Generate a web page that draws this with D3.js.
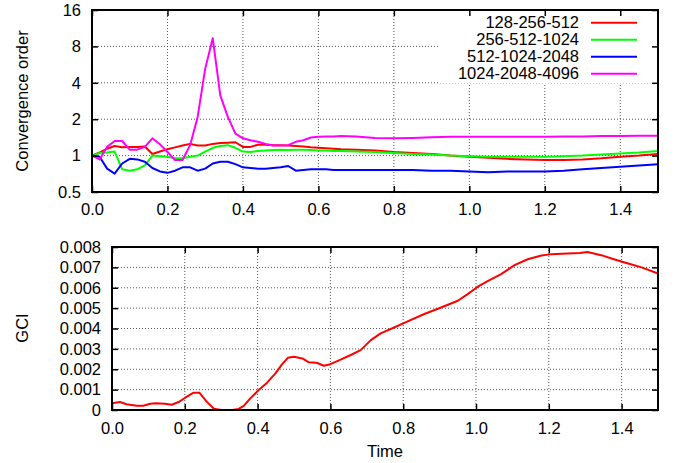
<!DOCTYPE html>
<html>
<head>
<meta charset="utf-8">
<script src="https://cdn.jsdelivr.net/npm/d3@7"></script>
<style>
  html, body { margin: 0; padding: 0; background: #fff; }
  svg { display: block; }
  text { font-family: "Liberation Sans", Arial, Helvetica, sans-serif; font-size: 16.5px; fill: #000; }
</style>
</head>
<body>
<svg id="chart" width="681" height="463"></svg>
<script>
// ---------------- data ----------------
const seriesNames = ["128-256-512", "256-512-1024", "512-1024-2048", "1024-2048-4096"];
const seriesColors = ["#ff0000", "#00ff00", "#0000ff", "#ff00ff"];

const orderTime = [0.00,0.02,0.04,0.06,0.08,0.10,0.12,0.14,0.16,0.18,0.20,0.22,0.24,0.26,0.28,0.30,0.32,0.34,0.36,0.38,
  0.40,0.42,0.44,0.46,0.48,0.50,0.52,0.54,0.56,0.58,0.60,0.62,0.64,0.66,
  0.70,0.75,0.80,0.85,0.90,0.95,1.00,1.05,1.10,1.15,1.20,1.25,1.30,1.35,1.40,1.45,1.50];

const order128 = [1.00,1.06,1.14,1.20,1.17,1.18,1.18,1.19,1.03,1.08,1.13,1.17,1.21,1.25,1.21,1.21,1.25,1.27,1.28,1.29,
  1.18,1.18,1.23,1.23,1.22,1.22,1.21,1.20,1.19,1.17,1.16,1.15,1.14,1.13,
  1.12,1.10,1.07,1.05,1.03,1.00,0.98,0.96,0.94,0.93,0.92,0.92,0.93,0.95,0.98,1.00,1.03];

const order256 = [1.00,1.05,1.06,1.08,0.77,0.75,0.77,0.83,1.00,0.99,0.98,0.95,0.95,0.98,1.00,1.08,1.16,1.20,1.22,1.16,
  1.08,1.07,1.09,1.10,1.11,1.12,1.11,1.12,1.12,1.11,1.10,1.10,1.09,1.09,
  1.08,1.07,1.05,1.03,1.02,1.00,0.99,0.98,0.98,0.98,0.98,0.99,1.00,1.02,1.04,1.06,1.09];

const order512 = [1.00,0.98,0.78,0.71,0.86,0.94,0.93,0.89,0.79,0.74,0.72,0.75,0.80,0.80,0.75,0.78,0.86,0.89,0.89,0.85,
  0.80,0.79,0.78,0.78,0.79,0.80,0.82,0.75,0.76,0.77,0.77,0.77,0.76,0.76,
  0.76,0.76,0.76,0.76,0.75,0.75,0.74,0.73,0.74,0.74,0.74,0.75,0.77,0.79,0.81,0.83,0.85];

const order1024 = [1.00,0.93,1.18,1.32,1.32,1.12,1.12,1.18,1.39,1.24,1.07,0.92,0.92,1.22,2.09,5.24,9.36,3.15,2.09,1.52,
  1.39,1.34,1.30,1.25,1.21,1.21,1.22,1.30,1.34,1.41,1.43,1.44,1.44,1.45,
  1.44,1.40,1.39,1.40,1.42,1.43,1.43,1.43,1.43,1.43,1.43,1.44,1.44,1.45,1.45,1.46,1.46];

const orderTicks = [0.5, 1, 2, 4, 8, 16];
const timeTicks = [0.0, 0.2, 0.4, 0.6, 0.8, 1.0, 1.2, 1.4];

const gciTime = [0.000,0.022,0.040,0.068,0.086,0.105,0.120,0.146,0.164,0.183,0.200,0.224,0.240,0.260,0.280,0.300,0.330,0.348,0.362,0.380,
  0.403,0.426,0.449,0.467,0.483,0.500,0.523,0.541,0.562,0.582,0.600,0.628,0.656,0.683,0.711,0.738,0.775,0.803,0.858,0.904,
  0.950,0.977,1.005,1.032,1.069,1.106,1.142,1.180,1.207,1.252,1.285,1.306,1.344,1.381,1.418,1.455,1.500];
const gciValue = [0.00033,0.00039,0.00028,0.00021,0.00021,0.00031,0.00033,0.00031,0.00026,0.00039,0.00059,0.00085,0.00085,0.00041,0.00006,0.00000,0.00000,0.00005,0.00020,0.00057,
  0.00098,0.00134,0.00180,0.00224,0.00256,0.00261,0.00253,0.00234,0.00232,0.00217,0.00225,0.00247,0.00270,0.00294,0.00343,0.00376,0.00405,0.00428,0.00471,0.00503,
  0.00536,0.00569,0.00605,0.00632,0.00667,0.00711,0.00740,0.00758,0.00765,0.00768,0.00770,0.00775,0.00760,0.00739,0.00719,0.00700,0.00670];
const gciTicks = [0, 0.001, 0.002, 0.003, 0.004, 0.005, 0.006, 0.007, 0.008];

// ---------------- layout ----------------
const svg = d3.select("#chart");
const TICK = 6;

function gridAndFrame(g, x, y, xt, yt, w, h) {
  g.append("g").selectAll("line").data(xt.filter(v => v > x.domain()[0] && v < x.domain()[1])).join("line")
    .attr("x1", d => x(d)).attr("x2", d => x(d)).attr("y1", 0).attr("y2", h)
    .attr("stroke", "#555").attr("stroke-width", 1).attr("stroke-dasharray", "1,2");
  g.append("g").selectAll("line").data(yt.filter(v => v > y.domain()[0] && v < y.domain()[1])).join("line")
    .attr("x1", 0).attr("x2", w).attr("y1", d => y(d)).attr("y2", d => y(d))
    .attr("stroke", "#555").attr("stroke-width", 1).attr("stroke-dasharray", "1,2");
}

function ticksAndAxes(g, x, y, xt, yt, w, h, yFmt) {
  const ax = g.append("g").attr("transform", `translate(0,${h})`)
    .call(d3.axisBottom(x).tickValues(xt).tickFormat(d3.format(".1f")).tickSizeInner(-TICK).tickSizeOuter(0).tickPadding(h > 170 ? 11 : 12));
  const ay = g.append("g")
    .call(d3.axisLeft(y).tickValues(yt).tickFormat(yFmt).tickSizeInner(-TICK).tickSizeOuter(0).tickPadding(11));
  const at = g.append("g").call(d3.axisTop(x).tickValues(xt).tickFormat("").tickSizeInner(-TICK).tickSizeOuter(0));
  const ar = g.append("g").attr("transform", `translate(${w},0)`)
    .call(d3.axisRight(y).tickValues(yt).tickFormat("").tickSizeInner(-TICK).tickSizeOuter(0));
  [ax, ay, at, ar].forEach(a => {
    a.select(".domain").remove();
    a.selectAll(".tick line").attr("stroke", "#000").attr("stroke-width", 1.5);
    a.selectAll("text").attr("font-size", null).attr("font-family", null).style("fill", "#000");
  });
  g.append("rect").attr("x", 0).attr("y", 0).attr("width", w).attr("height", h)
    .attr("fill", "none").attr("stroke", "#000").attr("stroke-width", 2);
}

// ---------- top panel ----------
const T = { left: 92, top: 10, right: 658, bottom: 192 };
const tw = T.right - T.left, th = T.bottom - T.top;
const gt = svg.append("g").attr("transform", `translate(${T.left},${T.top})`);
const xT = d3.scaleLinear().domain([0, 1.5]).range([0, tw]);
const yT = d3.scaleLog().base(2).domain([0.5, 16]).range([th, 0]);

gridAndFrame(gt, xT, yT, timeTicks, orderTicks, tw, th);

// legend white box covering grid
gt.append("rect").attr("x", 438 - T.left).attr("y", 0).attr("width", T.right - 438).attr("height", 83 - T.top).attr("fill", "#fff");

const orderSeries = [order128, order256, order512, order1024];
const lineT = d3.line().x(d => xT(d[0])).y(d => yT(d[1]));
orderSeries.forEach((vals, i) => {
  gt.append("path").datum(orderTime.map((t, j) => [t, vals[j]]))
    .attr("d", lineT).attr("fill", "none").attr("stroke", seriesColors[i])
    .attr("stroke-width", 2).attr("stroke-linejoin", "round");
});

ticksAndAxes(gt, xT, yT, timeTicks, orderTicks, tw, th, d3.format(""));

// legend
const leg = svg.append("g");
seriesNames.forEach((name, i) => {
  const cy = 22.7 + i * 17;
  leg.append("text").attr("x", 579).attr("y", cy).attr("dy", "0.35em").attr("text-anchor", "end").text(name);
  leg.append("line").attr("x1", 591).attr("x2", 637).attr("y1", cy).attr("y2", cy)
    .attr("stroke", seriesColors[i]).attr("stroke-width", 2);
});

svg.append("text").attr("transform", `translate(28,101) rotate(-90)`).attr("text-anchor", "middle").text("Convergence order");

// ---------- bottom panel ----------
const B = { left: 112, top: 247, right: 658, bottom: 410 };
const bw = B.right - B.left, bh = B.bottom - B.top;
const gb = svg.append("g").attr("transform", `translate(${B.left},${B.top})`);
const xB = d3.scaleLinear().domain([0, 1.5]).range([0, bw]);
const yB = d3.scaleLinear().domain([0, 0.008]).range([bh, 0]);

gridAndFrame(gb, xB, yB, timeTicks, gciTicks, bw, bh);

gb.append("path").datum(gciTime.map((t, j) => [t, gciValue[j]]))
  .attr("d", d3.line().x(d => xB(d[0])).y(d => yB(d[1])))
  .attr("fill", "none").attr("stroke", "#ff0000").attr("stroke-width", 2).attr("stroke-linejoin", "round");

ticksAndAxes(gb, xB, yB, timeTicks, gciTicks, bw, bh, d => d === 0 ? "0" : d3.format(".3f")(d));

svg.append("text").attr("transform", `translate(28,328) rotate(-90)`).attr("text-anchor", "middle").text("GCI");
svg.append("text").attr("x", 385).attr("y", 457).attr("text-anchor", "middle").text("Time");
</script>
</body>
</html>
